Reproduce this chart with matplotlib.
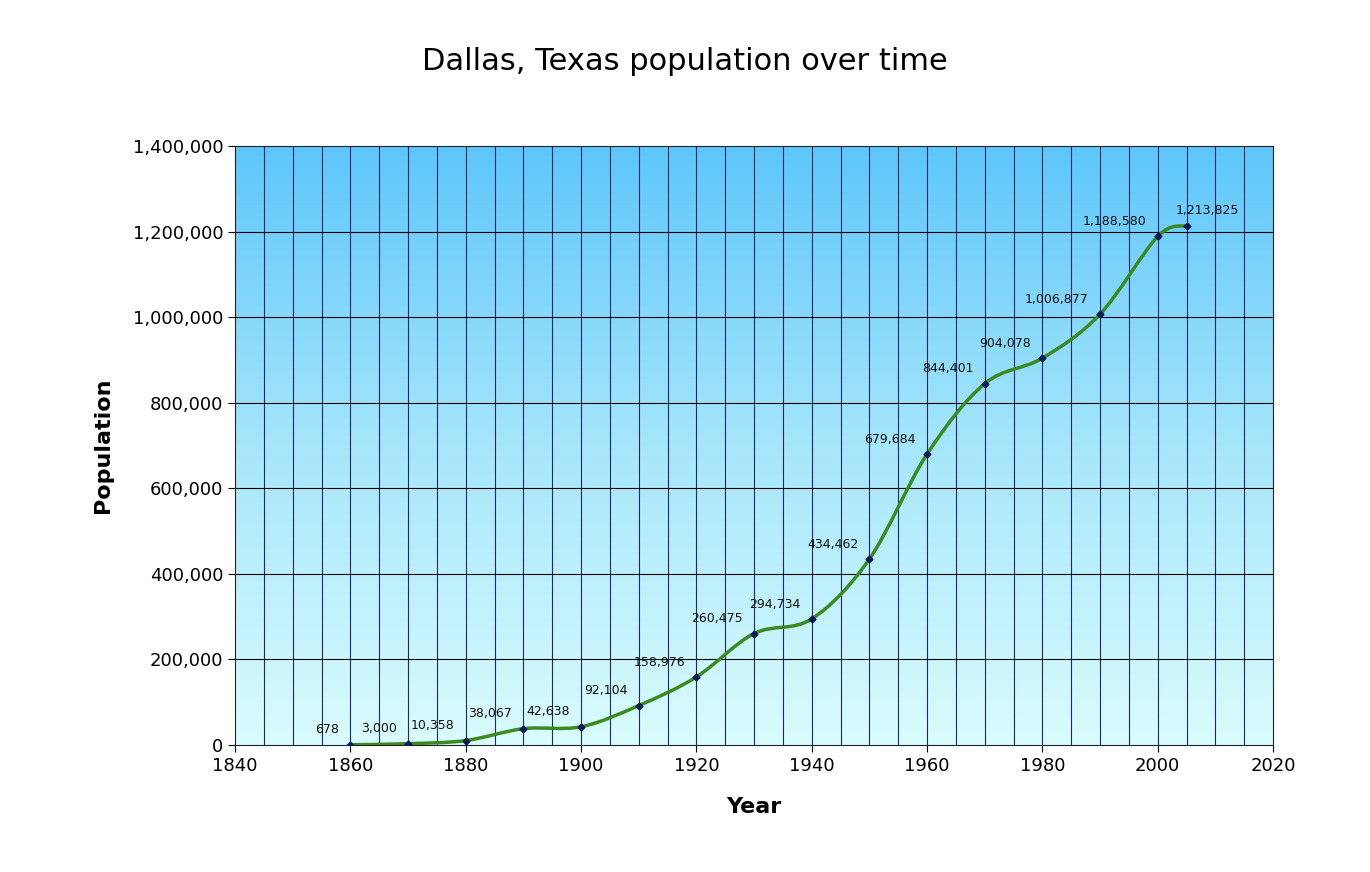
import matplotlib
matplotlib.use("Agg")
import matplotlib.pyplot as plt
import numpy as np
from matplotlib.path import Path
from matplotlib.patches import PathPatch
from matplotlib.colors import LinearSegmentedColormap

years = [1860, 1870, 1880, 1890, 1900, 1910, 1920, 1930, 1940, 1950,
         1960, 1970, 1980, 1990, 2000, 2005]
population = [678, 3000, 10358, 38067, 42638, 92104, 158976, 260475, 294734,
              434462, 679684, 844401, 904078, 1006877, 1188580, 1213825]

fig = plt.figure(figsize=(13.7, 8.72), dpi=100)
ax = fig.add_axes([235 / 1370, 1 - 745 / 872, (1273 - 235) / 1370, (745 - 146) / 872])

# gradient background
cmap = LinearSegmentedColormap.from_list("bg", ["#dafcfd", "#a6e6fb", "#5ec6fa"])
grad = np.linspace(0, 1, 256).reshape(-1, 1)
ax.imshow(grad, aspect="auto", cmap=cmap, origin="lower",
          extent=[1840, 2020, 0, 1400000], zorder=0)

ax.set_xlim(1840, 2020)
ax.set_ylim(0, 1400000)
for x in range(1845, 2020, 5):
    ax.axvline(x, color="#1a2a6a", lw=0.8, zorder=1)
for y in range(200000, 1400000, 200000):
    ax.axhline(y, color="#000000", lw=0.8, zorder=1)

# smooth curve (Catmull-Rom to Bezier)
px = np.array(years, float)
py = np.array(population, float)
verts = [(px[0], py[0])]
codes = [Path.MOVETO]
n = len(px)
t = 0.5
for i in range(n - 1):
    p0 = i - 1 if i > 0 else i
    p3 = i + 2 if i + 2 < n else i + 1
    c1 = (px[i] + (px[i + 1] - px[p0]) * t / 3, py[i] + (py[i + 1] - py[p0]) * t / 3)
    c2 = (px[i + 1] - (px[p3] - px[i]) * t / 3, py[i + 1] - (py[p3] - py[i]) * t / 3)
    verts += [c1, c2, (px[i + 1], py[i + 1])]
    codes += [Path.CURVE4] * 3
ax.add_patch(PathPatch(Path(verts, codes), fill=False, edgecolor="#3a8a1e", lw=2.5, zorder=3))
ax.plot(years, population, "D", color="#0a1a5a", ms=3.5, zorder=4)

for x, y in zip(years, population):
    ax.annotate(f"{y:,}", (x, y), xytext=(-8, 6), textcoords="offset points",
                ha="right" if x != 2005 else "left", va="bottom", fontsize=9,
                color="#111111", zorder=5)

ax.set_xticks(range(1840, 2021, 20))
ax.set_yticks(range(0, 1400001, 200000))
ax.yaxis.set_major_formatter(matplotlib.ticker.FuncFormatter(lambda v, p: f"{int(v):,}"))
ax.tick_params(labelsize=13, length=5)
for s in ax.spines.values():
    s.set_color("#222222")
ax.set_xlabel("Year", fontsize=16, fontweight="bold", labelpad=16)
ax.set_ylabel("Population", fontsize=16, fontweight="bold", labelpad=14)
fig.text(0.5, 1 - 62 / 872, "Dallas, Texas population over time", ha="center",
         va="center", fontsize=22)
fig.savefig("out.png", dpi=100)
